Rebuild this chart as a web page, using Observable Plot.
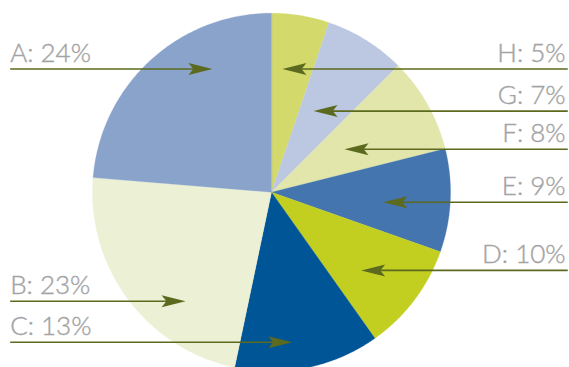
<!DOCTYPE html>
<html>
<head>
<meta charset="utf-8">
<script src="https://cdn.jsdelivr.net/npm/d3@7"></script>
<script src="https://cdn.jsdelivr.net/npm/@observablehq/plot@0.6"></script>
<style>
  html, body { margin: 0; padding: 0; background: #fff; }
  #chart svg { display: block; }
</style>
</head>
<body>
<div id="chart"></div>
<script>
// Slices, clockwise from 12 o'clock
const categories = ["H", "G", "F", "E", "D", "C", "B", "A"];
const labelPercents = [5, 7, 8, 9, 10, 13, 23, 24];           // printed labels
const sliceShares = [5.2, 7.3, 8.6, 9.3, 9.8, 13.1, 23.0, 23.7]; // slice sizes
const sliceColors = ["#d3da6b", "#bcc8e2", "#e2e6aa", "#4475ae", "#c3cf20", "#005596", "#ecf0d4", "#8aa3cb"];

// Callouts (pie radius = 1, centre = 0,0)
const labelSide = ["right", "right", "right", "right", "right", "left", "left", "left"];
const arrowY = [0.688, 0.453, 0.240, -0.056, -0.437, -0.838, -0.609, 0.688];
const arrowTipX = [0.061, 0.235, 0.408, 0.624, 0.501, 0.116, -0.480, -0.330];
const leftEdgeX = -1.460;
const rightEdgeX = 1.655;

const W = 569, H = 367;
const R = 179, CX = 271, CY = 191.7;

// Build slice polygons
const total = d3.sum(sliceShares);
const slicePts = [];
let acc = 0;
categories.forEach((c, i) => {
  const a0 = acc / total * 2 * Math.PI;
  acc += sliceShares[i];
  const a1 = acc / total * 2 * Math.PI;
  slicePts.push({key: c, color: sliceColors[i], x: 0, y: 0});
  const n = Math.max(2, Math.ceil((a1 - a0) / (Math.PI / 360)));
  for (let k = 0; k <= n; k++) {
    const a = a0 + (a1 - a0) * k / n;
    slicePts.push({key: c, color: sliceColors[i], x: Math.sin(a), y: Math.cos(a)});
  }
});

const callouts = categories.map((c, i) => ({
  label: `${c}: ${labelPercents[i]}%`,
  side: labelSide[i],
  y: arrowY[i],
  tip: arrowTipX[i],
  start: labelSide[i] === "left" ? leftEdgeX : rightEdgeX
}));
const leftCallouts = callouts.filter(d => d.side === "left");
const rightCallouts = callouts.filter(d => d.side === "right");

const arrowColor = "#5b6a1e";
const stealth = {
  draw(context, size) {
    const r = Math.sqrt(size / Math.PI);
    context.moveTo(0, 0);
    context.lineTo(-2 * r, -r / 2);
    context.lineTo(-1.6 * r, 0);
    context.lineTo(-2 * r, r / 2);
    context.closePath();
  }
};

const textStyle = {y: "y", text: "label", lineAnchor: "bottom", dy: -7.5,
  fill: "#a3a3a3", stroke: "#a3a3a3", strokeWidth: 0.4,
  fontSize: 26, fontFamily: "Lato", fontWeight: 300};

const chart = Plot.plot({
  width: W, height: H,
  margin: 0,
  x: {domain: [-CX / R, (W - CX) / R], axis: null},
  y: {domain: [-(H - CY) / R, CY / R], axis: null},
  style: {background: "#fff"},
  marks: [
    Plot.line(slicePts, {x: "x", y: "y", z: "key", fill: "color", stroke: "color", strokeWidth: 0.3, curve: "linear-closed"}),
    Plot.link(callouts, {x1: "start", x2: d => d.tip + (d.side === "left" ? -0.05 : 0.05), y1: "y", y2: "y", stroke: arrowColor, strokeWidth: 1.6}),
    Plot.dot(leftCallouts, {x: "tip", y: "y", symbol: stealth, r: 12, fill: arrowColor, stroke: "none"}),
    Plot.dot(rightCallouts, {x: "tip", y: "y", symbol: stealth, r: 12, fill: arrowColor, stroke: "none", rotate: 180}),
    Plot.text(leftCallouts, {...textStyle, x: () => leftEdgeX, textAnchor: "start"}),
    Plot.text(rightCallouts, {...textStyle, x: () => rightEdgeX - 0.012, textAnchor: "end"})
  ]
});
document.getElementById("chart").append(chart);
</script>
</body>
</html>
